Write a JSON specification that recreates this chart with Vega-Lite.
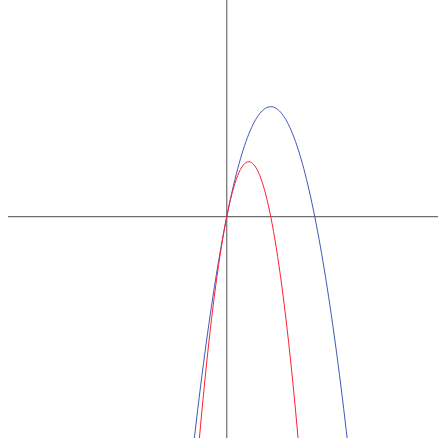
{
  "$schema": "https://vega.github.io/schema/vega-lite/v6.json",
  "autosize": "none",
  "padding": {"left": 8, "top": 0, "right": 0, "bottom": 5},
  "width": 430,
  "height": 438,
  "background": "white",
  "config": {"view": {"stroke": null}},
  "datasets": {
    "axes": [
      {"name": "xaxis", "x1": -9.94, "x2": 9.6, "y1": 0, "y2": 0},
      {"name": "yaxis", "x1": 0, "x2": 0, "y1": -10.06, "y2": 9.85}
    ],
    "curves": [
      {"series": "blue", "x": -1.5, "y": -10.3125},
      {"series": "blue", "x": -1.25, "y": -8.203},
      {"series": "blue", "x": -1, "y": -6.25},
      {"series": "blue", "x": -0.75, "y": -4.453},
      {"series": "blue", "x": -0.5, "y": -2.8125},
      {"series": "blue", "x": -0.25, "y": -1.328},
      {"series": "blue", "x": 0, "y": 0},
      {"series": "blue", "x": 0.25, "y": 1.172},
      {"series": "blue", "x": 0.5, "y": 2.1875},
      {"series": "blue", "x": 0.75, "y": 3.047},
      {"series": "blue", "x": 1, "y": 3.75},
      {"series": "blue", "x": 1.25, "y": 4.297},
      {"series": "blue", "x": 1.5, "y": 4.6875},
      {"series": "blue", "x": 1.75, "y": 4.922},
      {"series": "blue", "x": 2, "y": 5},
      {"series": "blue", "x": 2.25, "y": 4.922},
      {"series": "blue", "x": 2.5, "y": 4.6875},
      {"series": "blue", "x": 2.75, "y": 4.297},
      {"series": "blue", "x": 3, "y": 3.75},
      {"series": "blue", "x": 3.25, "y": 3.047},
      {"series": "blue", "x": 3.5, "y": 2.1875},
      {"series": "blue", "x": 3.75, "y": 1.172},
      {"series": "blue", "x": 4, "y": 0},
      {"series": "blue", "x": 4.25, "y": -1.328},
      {"series": "blue", "x": 4.5, "y": -2.8125},
      {"series": "blue", "x": 4.75, "y": -4.453},
      {"series": "blue", "x": 5, "y": -6.25},
      {"series": "blue", "x": 5.25, "y": -8.203},
      {"series": "blue", "x": 5.5, "y": -10.3125},
      {"series": "red", "x": -1.25, "y": -10.156},
      {"series": "red", "x": -1.125, "y": -8.789},
      {"series": "red", "x": -1, "y": -7.5},
      {"series": "red", "x": -0.875, "y": -6.289},
      {"series": "red", "x": -0.75, "y": -5.156},
      {"series": "red", "x": -0.625, "y": -4.102},
      {"series": "red", "x": -0.5, "y": -3.125},
      {"series": "red", "x": -0.375, "y": -2.227},
      {"series": "red", "x": -0.25, "y": -1.406},
      {"series": "red", "x": -0.125, "y": -0.664},
      {"series": "red", "x": 0, "y": 0},
      {"series": "red", "x": 0.125, "y": 0.586},
      {"series": "red", "x": 0.25, "y": 1.094},
      {"series": "red", "x": 0.375, "y": 1.523},
      {"series": "red", "x": 0.5, "y": 1.875},
      {"series": "red", "x": 0.625, "y": 2.148},
      {"series": "red", "x": 0.75, "y": 2.344},
      {"series": "red", "x": 0.875, "y": 2.461},
      {"series": "red", "x": 1, "y": 2.5},
      {"series": "red", "x": 1.125, "y": 2.461},
      {"series": "red", "x": 1.25, "y": 2.344},
      {"series": "red", "x": 1.375, "y": 2.148},
      {"series": "red", "x": 1.5, "y": 1.875},
      {"series": "red", "x": 1.625, "y": 1.523},
      {"series": "red", "x": 1.75, "y": 1.094},
      {"series": "red", "x": 1.875, "y": 0.586},
      {"series": "red", "x": 2, "y": 0},
      {"series": "red", "x": 2.125, "y": -0.664},
      {"series": "red", "x": 2.25, "y": -1.406},
      {"series": "red", "x": 2.375, "y": -2.227},
      {"series": "red", "x": 2.5, "y": -3.125},
      {"series": "red", "x": 2.625, "y": -4.102},
      {"series": "red", "x": 2.75, "y": -5.156},
      {"series": "red", "x": 2.875, "y": -6.289},
      {"series": "red", "x": 3, "y": -7.5},
      {"series": "red", "x": 3.125, "y": -8.789},
      {"series": "red", "x": 3.25, "y": -10.156}
    ]
  },
  "layer": [
    {
      "data": {"name": "axes"},
      "mark": {"type": "rule", "color": "#6e6e6e", "strokeWidth": 1.2, "clip": true},
      "encoding": {
        "x": {"field": "x1", "type": "quantitative", "scale": {"domain": [-9.94, 9.6], "nice": false, "zero": false}, "axis": null},
        "x2": {"field": "x2"},
        "y": {"field": "y1", "type": "quantitative", "scale": {"domain": [-10.06, 9.85], "nice": false, "zero": false}, "axis": null},
        "y2": {"field": "y2"}
      }
    },
    {
      "data": {"name": "curves"},
      "mark": {"type": "line", "strokeWidth": 1, "clip": true, "interpolate": "monotone"},
      "encoding": {
        "x": {"field": "x", "type": "quantitative", "scale": {"domain": [-9.94, 9.6], "nice": false, "zero": false}, "axis": null},
        "y": {"field": "y", "type": "quantitative", "scale": {"domain": [-10.06, 9.85], "nice": false, "zero": false}, "axis": null},
        "color": {"field": "series", "type": "nominal", "scale": {"domain": ["red", "blue"], "range": ["#ff2030", "#4058b8"]}, "legend": null},
        "order": {"field": "x", "type": "quantitative"}
      }
    }
  ]
}
